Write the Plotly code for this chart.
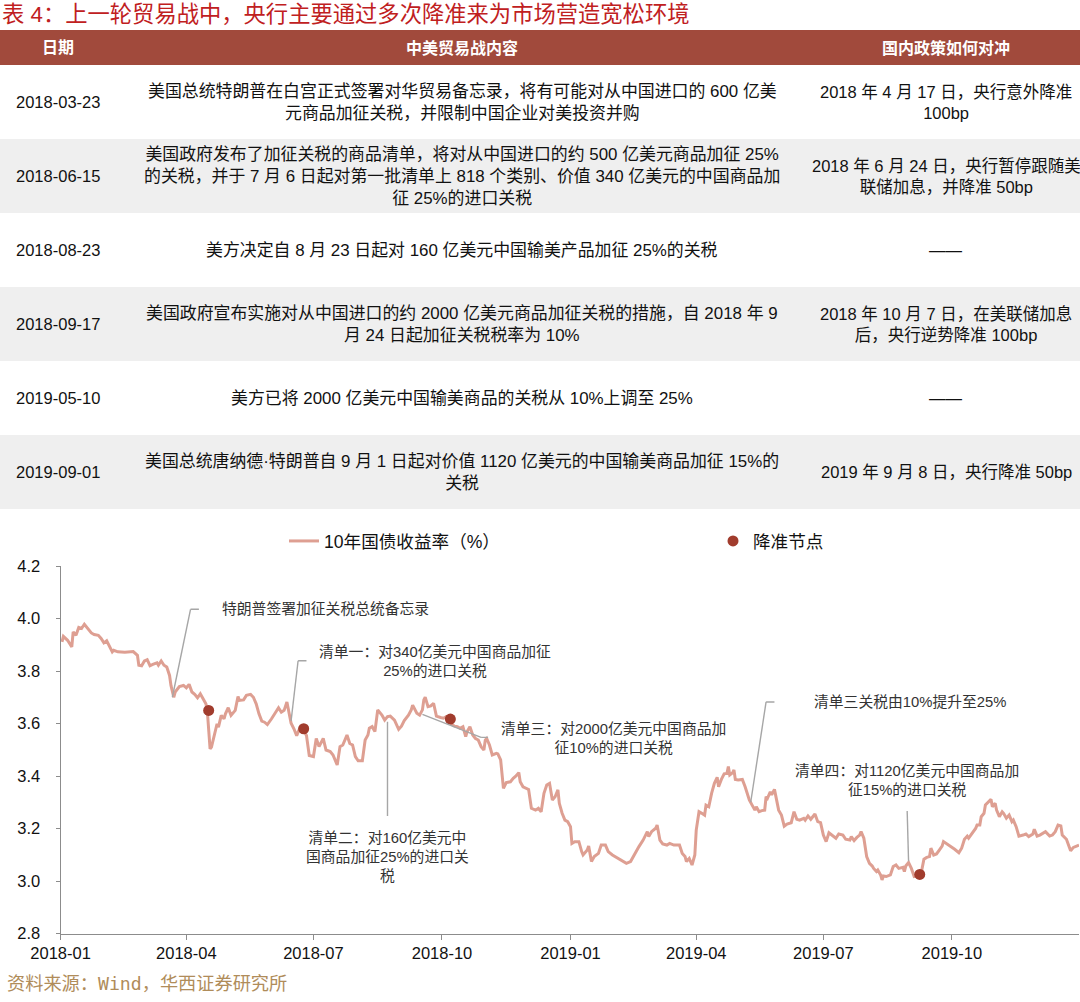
import plotly.graph_objects as go

# ---------------- data ----------------
title_text = "表 4：上一轮贸易战中，央行主要通过多次降准来为市场营造宽松环境"
source_text = "资料来源：Wind，华西证券研究所"

table_header = ["日期", "中美贸易战内容", "国内政策如何对冲"]
table_dates = ["2018-03-23", "2018-06-15", "2018-08-23", "2018-09-17", "2019-05-10", "2019-09-01"]
table_content = [
    "美国总统特朗普在白宫正式签署对华贸易备忘录，将有可能对从中国进口的 600 亿美<br>元商品加征关税，并限制中国企业对美投资并购",
    "美国政府发布了加征关税的商品清单，将对从中国进口的约 500 亿美元商品加征 25%<br>的关税，并于 7 月 6 日起对第一批清单上 818 个类别、价值 340 亿美元的中国商品加<br>征 25%的进口关税",
    "美方决定自 8 月 23 日起对 160 亿美元中国输美产品加征 25%的关税",
    "美国政府宣布实施对从中国进口的约 2000 亿美元商品加征关税的措施，自 2018 年 9<br>月 24 日起加征关税税率为 10%",
    "美方已将 2000 亿美元中国输美商品的关税从 10%上调至 25%",
    "美国总统唐纳德·特朗普自 9 月 1 日起对价值 1120 亿美元的中国输美商品加征 15%的<br>关税",
]
table_policy = [
    "2018 年 4 月 17 日，央行意外降准<br>100bp",
    "2018 年 6 月 24 日，央行暂停跟随美<br>联储加息，并降准 50bp",
    "——",
    "2018 年 10 月 7 日，在美联储加息<br>后，央行逆势降准 100bp",
    "——",
    "2019 年 9 月 8 日，央行降准 50bp",
]

series_names = ["10年国债收益率（%）", "降准节点"]

yield_2018 = [
    ("2018-01-02", 3.911), ("2018-01-03", 3.932), ("2018-01-06", 3.917), ("2018-01-09", 3.892), ("2018-01-10", 3.949),
    ("2018-01-12", 3.936), ("2018-01-14", 3.966), ("2018-01-16", 3.962), ("2018-01-18", 3.978), ("2018-01-20", 3.966),
    ("2018-01-23", 3.945), ("2018-01-25", 3.939), ("2018-01-28", 3.936), ("2018-01-30", 3.924), ("2018-02-01", 3.907),
    ("2018-02-03", 3.915), ("2018-02-05", 3.892), ("2018-02-07", 3.873), ("2018-02-08", 3.879), ("2018-02-11", 3.873),
    ("2018-02-16", 3.871), ("2018-02-22", 3.874), ("2018-02-25", 3.860), ("2018-02-26", 3.822), ("2018-02-28", 3.820),
    ("2018-03-02", 3.838), ("2018-03-04", 3.843), ("2018-03-06", 3.820), ("2018-03-08", 3.825), ("2018-03-11", 3.831),
    ("2018-03-12", 3.822), ("2018-03-14", 3.838), ("2018-03-16", 3.822), ("2018-03-18", 3.815), ("2018-03-20", 3.783),
    ("2018-03-21", 3.745), ("2018-03-23", 3.700), ("2018-03-24", 3.720), ("2018-03-27", 3.741), ("2018-03-30", 3.745),
    ("2018-04-01", 3.736), ("2018-04-03", 3.749), ("2018-04-05", 3.720), ("2018-04-07", 3.711), ("2018-04-09", 3.698),
    ("2018-04-11", 3.713), ("2018-04-13", 3.694), ("2018-04-15", 3.675), ("2018-04-16", 3.650), ("2018-04-18", 3.503),
    ("2018-04-19", 3.510), ("2018-04-21", 3.560), ("2018-04-23", 3.599), ("2018-04-24", 3.586), ("2018-04-26", 3.631),
    ("2018-04-28", 3.618), ("2018-04-29", 3.637), ("2018-05-01", 3.660), ("2018-05-03", 3.631), ("2018-05-06", 3.650),
    ("2018-05-08", 3.703), ("2018-05-09", 3.688), ("2018-05-12", 3.690), ("2018-05-14", 3.707), ("2018-05-17", 3.711),
    ("2018-05-19", 3.700), ("2018-05-21", 3.675), ("2018-05-23", 3.637), ("2018-05-25", 3.609), ("2018-05-27", 3.605),
    ("2018-05-29", 3.596), ("2018-06-01", 3.618), ("2018-06-04", 3.643), ("2018-06-06", 3.660), ("2018-06-08", 3.643),
    ("2018-06-10", 3.650), ("2018-06-12", 3.682), ("2018-06-13", 3.650), ("2018-06-15", 3.601), ("2018-06-17", 3.580),
    ("2018-06-19", 3.554), ("2018-06-21", 3.580), ("2018-06-24", 3.575), ("2018-06-26", 3.554), ("2018-06-28", 3.478),
    ("2018-07-01", 3.474), ("2018-07-03", 3.543), ("2018-07-05", 3.512), ("2018-07-08", 3.543), ("2018-07-10", 3.499),
    ("2018-07-13", 3.493), ("2018-07-15", 3.480), ("2018-07-18", 3.442), ("2018-07-20", 3.512), ("2018-07-22", 3.518),
    ("2018-07-25", 3.556), ("2018-07-27", 3.524), ("2018-07-29", 3.518), ("2018-07-31", 3.474), ("2018-08-02", 3.458),
    ("2018-08-05", 3.458), ("2018-08-07", 3.537), ("2018-08-09", 3.556), ("2018-08-10", 3.582), ("2018-08-12", 3.588),
    ("2018-08-14", 3.569), ("2018-08-16", 3.652), ("2018-08-19", 3.632), ("2018-08-21", 3.613), ("2018-08-23", 3.626),
    ("2018-08-25", 3.628), ("2018-08-28", 3.613), ("2018-08-31", 3.578), ("2018-09-02", 3.590), ("2018-09-04", 3.611),
    ("2018-09-07", 3.632), ("2018-09-09", 3.652), ("2018-09-10", 3.670), ("2018-09-12", 3.652), ("2018-09-13", 3.639),
    ("2018-09-15", 3.632), ("2018-09-17", 3.652), ("2018-09-18", 3.690), ("2018-09-19", 3.700), ("2018-09-21", 3.664),
    ("2018-09-23", 3.667), ("2018-09-25", 3.677), ("2018-09-27", 3.628), ("2018-09-30", 3.623), ("2018-10-02", 3.620),
    ("2018-10-04", 3.626), ("2018-10-07", 3.601), ("2018-10-10", 3.590), ("2018-10-12", 3.588), ("2018-10-14", 3.582),
    ("2018-10-16", 3.588), ("2018-10-18", 3.550), ("2018-10-19", 3.569), ("2018-10-21", 3.588), ("2018-10-23", 3.556),
    ("2018-10-25", 3.543), ("2018-10-27", 3.537), ("2018-10-29", 3.512), ("2018-10-31", 3.499), ("2018-11-01", 3.537),
    ("2018-11-02", 3.543), ("2018-11-04", 3.518), ("2018-11-06", 3.480), ("2018-11-09", 3.486), ("2018-11-10", 3.484),
    ("2018-11-12", 3.461), ("2018-11-14", 3.353), ("2018-11-16", 3.375), ("2018-11-19", 3.378), ("2018-11-21", 3.391),
    ("2018-11-23", 3.400), ("2018-11-25", 3.413), ("2018-11-26", 3.378), ("2018-11-28", 3.359), ("2018-12-01", 3.353),
    ("2018-12-02", 3.349), ("2018-12-04", 3.277), ("2018-12-07", 3.270), ("2018-12-09", 3.277), ("2018-12-11", 3.264),
    ("2018-12-13", 3.334), ("2018-12-15", 3.366), ("2018-12-17", 3.372), ("2018-12-19", 3.309), ("2018-12-21", 3.321),
    ("2018-12-23", 3.347), ("2018-12-24", 3.296), ("2018-12-26", 3.258), ("2018-12-28", 3.232), ("2018-12-30", 3.226),
]

yield_2019 = [
    ("2019-01-01", 3.207), ("2019-01-02", 3.143), ("2019-01-04", 3.150), ("2019-01-07", 3.150), ("2019-01-09", 3.112),
    ("2019-01-10", 3.099), ("2019-01-13", 3.118), ("2019-01-14", 3.133), ("2019-01-16", 3.074), ("2019-01-18", 3.093),
    ("2019-01-21", 3.105), ("2019-01-23", 3.137), ("2019-01-26", 3.137), ("2019-01-28", 3.112), ("2019-01-31", 3.099),
    ("2019-02-03", 3.090), ("2019-02-07", 3.078), ("2019-02-10", 3.067), ("2019-02-13", 3.074), ("2019-02-16", 3.105),
    ("2019-02-19", 3.131), ("2019-02-22", 3.156), ("2019-02-25", 3.188), ("2019-02-26", 3.169), ("2019-02-28", 3.188),
    ("2019-03-03", 3.201), ("2019-03-04", 3.213), ("2019-03-06", 3.156), ("2019-03-08", 3.141), ("2019-03-11", 3.137),
    ("2019-03-13", 3.143), ("2019-03-16", 3.137), ("2019-03-18", 3.137), ("2019-03-20", 3.137), ("2019-03-22", 3.105),
    ("2019-03-24", 3.093), ("2019-03-25", 3.074), ("2019-03-27", 3.086), ("2019-03-29", 3.061), ("2019-03-31", 3.099),
    ("2019-04-01", 3.194), ("2019-04-03", 3.264), ("2019-04-05", 3.258), ("2019-04-07", 3.251), ("2019-04-08", 3.289),
    ("2019-04-10", 3.283), ("2019-04-12", 3.334), ("2019-04-14", 3.372), ("2019-04-16", 3.395), ("2019-04-17", 3.359),
    ("2019-04-19", 3.387), ("2019-04-21", 3.408), ("2019-04-23", 3.410), ("2019-04-24", 3.436), ("2019-04-25", 3.404),
    ("2019-04-27", 3.412), ("2019-04-28", 3.423), ("2019-04-29", 3.387), ("2019-05-01", 3.385), ("2019-05-04", 3.387),
    ("2019-05-06", 3.359), ("2019-05-07", 3.340), ("2019-05-09", 3.309), ("2019-05-11", 3.289), ("2019-05-13", 3.270),
    ("2019-05-14", 3.283), ("2019-05-16", 3.264), ("2019-05-18", 3.268), ("2019-05-20", 3.270), ("2019-05-21", 3.321),
    ("2019-05-22", 3.315), ("2019-05-24", 3.340), ("2019-05-25", 3.328), ("2019-05-27", 3.349), ("2019-05-29", 3.289),
    ("2019-05-30", 3.270), ("2019-06-01", 3.251), ("2019-06-03", 3.209), ("2019-06-05", 3.217), ("2019-06-08", 3.222),
    ("2019-06-10", 3.264), ("2019-06-12", 3.235), ("2019-06-14", 3.232), ("2019-06-17", 3.239), ("2019-06-18", 3.232),
    ("2019-06-20", 3.248), ("2019-06-22", 3.235), ("2019-06-24", 3.248), ("2019-06-25", 3.255), ("2019-06-27", 3.226),
    ("2019-06-29", 3.222), ("2019-07-01", 3.175), ("2019-07-03", 3.150), ("2019-07-05", 3.184), ("2019-07-08", 3.171),
    ("2019-07-10", 3.163), ("2019-07-12", 3.179), ("2019-07-15", 3.175), ("2019-07-17", 3.159), ("2019-07-20", 3.156),
    ("2019-07-21", 3.169), ("2019-07-23", 3.154), ("2019-07-25", 3.166), ("2019-07-27", 3.175), ("2019-07-28", 3.188),
    ("2019-07-30", 3.163), ("2019-08-01", 3.093), ("2019-08-03", 3.067), ("2019-08-05", 3.057), ("2019-08-06", 3.048),
    ("2019-08-08", 3.036), ("2019-08-09", 3.042), ("2019-08-11", 3.023), ("2019-08-12", 3.004), ("2019-08-13", 3.019),
    ("2019-08-15", 3.017), ("2019-08-18", 3.023), ("2019-08-20", 3.055), ("2019-08-22", 3.061), ("2019-08-24", 3.048),
    ("2019-08-27", 3.052), ("2019-08-28", 3.036), ("2019-08-29", 3.057), ("2019-08-31", 3.070), ("2019-09-02", 3.048),
    ("2019-09-04", 3.017), ("2019-09-06", 3.020), ("2019-09-09", 3.029), ("2019-09-11", 3.083), ("2019-09-13", 3.090),
    ("2019-09-15", 3.093), ("2019-09-16", 3.125), ("2019-09-18", 3.099), ("2019-09-20", 3.103), ("2019-09-22", 3.118),
    ("2019-09-24", 3.133), ("2019-09-25", 3.150), ("2019-09-27", 3.143), ("2019-09-30", 3.133), ("2019-10-03", 3.121),
    ("2019-10-06", 3.108), ("2019-10-08", 3.125), ("2019-10-10", 3.159), ("2019-10-12", 3.171), ("2019-10-13", 3.163),
    ("2019-10-16", 3.184), ("2019-10-18", 3.200), ("2019-10-19", 3.213), ("2019-10-21", 3.213), ("2019-10-22", 3.245),
    ("2019-10-24", 3.258), ("2019-10-25", 3.290), ("2019-10-27", 3.302), ("2019-10-29", 3.311), ("2019-10-30", 3.283),
    ("2019-11-01", 3.296), ("2019-11-02", 3.270), ("2019-11-04", 3.245), ("2019-11-06", 3.264), ("2019-11-07", 3.258),
    ("2019-11-09", 3.239), ("2019-11-11", 3.251), ("2019-11-13", 3.226), ("2019-11-14", 3.232), ("2019-11-16", 3.207),
    ("2019-11-18", 3.171), ("2019-11-21", 3.175), ("2019-11-23", 3.179), ("2019-11-25", 3.169), ("2019-11-28", 3.179),
    ("2019-11-29", 3.197), ("2019-12-01", 3.171), ("2019-12-03", 3.175), ("2019-12-05", 3.182), ("2019-12-07", 3.188),
    ("2019-12-10", 3.171), ("2019-12-12", 3.175), ("2019-12-14", 3.188), ("2019-12-16", 3.213), ("2019-12-18", 3.210),
    ("2019-12-19", 3.175), ("2019-12-22", 3.159), ("2019-12-23", 3.143), ("2019-12-25", 3.115), ("2019-12-27", 3.128),
    ("2019-12-29", 3.133), ("2019-12-31", 3.137),
]

rrr_dates = ["2018-04-17", "2018-06-24", "2018-10-07", "2019-09-08"]
rrr_values = [3.650, 3.580, 3.617, 3.025]

x_tick_vals = ["2018-01-01", "2018-04-01", "2018-07-01", "2018-10-01",
               "2019-01-01", "2019-04-01", "2019-07-01", "2019-10-01"]
x_tick_text = ["2018-01", "2018-04", "2018-07", "2018-10", "2019-01", "2019-04", "2019-07", "2019-10"]
y_tick_vals = [2.8, 3.0, 3.2, 3.4, 3.6, 3.8, 4.0, 4.2]

callout_texts = [
    "特朗普签署加征关税总统备忘录",
    "清单一：对340亿美元中国商品加征<br>25%的进口关税",
    "清单二：对160亿美元中<br>国商品加征25%的进口关<br>税",
    "清单三：对2000亿美元中国商品加<br>征10%的进口关税",
    "清单三关税由10%提升至25%",
    "清单四：对1120亿美元中国商品加<br>征15%的进口关税",
]

# ---------------- layout / style ----------------
W, H = 1080, 1002
FONT = "Liberation Sans, Noto Sans CJK SC, sans-serif"
LINE_COLOR = "#DE9F92"
DOT_COLOR = "#A13C2D"
LEADER_COLOR = "#A6A6A6"
HEADER_COLOR = "#A14A3C"
STRIPE_COLOR = "#EFEFEF"

# callout placement: (text anchor x, y, xanchor), leader polyline
callout_layout = [
    (("2018-04-25", 4.036, "left"), [("2018-03-22", 3.700), ("2018-04-04", 4.035), ("2018-04-10", 4.035)]),
    (("2018-09-26", 3.838, "center"), [("2018-06-15", 3.610), ("2018-06-20", 3.839), ("2018-06-26", 3.839)]),
    (("2018-08-23", 3.091, "center"), [("2018-08-23", 3.607), ("2018-08-23", 3.248)]),
    (("2019-02-01", 3.541, "center"), [("2018-09-17", 3.635), ("2018-10-29", 3.547), ("2018-11-03", 3.547)]),
    (("2019-06-23", 3.682, "left"), [("2019-05-10", 3.300), ("2019-05-21", 3.682), ("2019-05-27", 3.682)]),
    (("2019-08-30", 3.383, "center"), [("2019-08-30", 3.267), ("2019-08-31", 3.075)]),
]

fig = go.Figure()

all_pts = yield_2018 + yield_2019
fig.add_trace(go.Scatter(
    x=[d for d, _ in all_pts], y=[v for _, v in all_pts],
    mode="lines", name=series_names[0], legend="legend",
    line=dict(color=LINE_COLOR, width=3), hoverinfo="skip",
))
fig.add_trace(go.Scatter(
    x=rrr_dates, y=rrr_values, mode="markers", name=series_names[1], legend="legend2",
    marker=dict(color=DOT_COLOR, size=11), hoverinfo="skip",
))

shapes = []
annotations = []

# ---- table (on hidden axes x2/y2: rows are integer bands) ----
n_rows = len(table_dates)
hdr = 35 / 74.0
col_x = [58 / W, 462 / W, 946 / W]
col_size = [16.5, 16.9, 16.5]
shapes.append(dict(type="rect", xref="x2", yref="y2", x0=0, x1=1, y0=-hdr, y1=0,
                   fillcolor=HEADER_COLOR, line=dict(width=0), layer="below"))
for i in range(n_rows):
    if i % 2 == 1:
        shapes.append(dict(type="rect", xref="x2", yref="y2", x0=0, x1=1, y0=i, y1=i + 1,
                           fillcolor=STRIPE_COLOR, line=dict(width=0), layer="below"))
for j, h in enumerate(table_header):
    annotations.append(dict(xref="x2", yref="y2", x=col_x[j], y=-hdr / 2, text=h, showarrow=False,
                            xanchor="center", yanchor="middle",
                            font=dict(family=FONT, size=16, color="white", weight=600)))
for i in range(n_rows):
    for j, txt in enumerate([table_dates[i], table_content[i], table_policy[i]]):
        annotations.append(dict(xref="x2", yref="y2", x=col_x[j], y=i + 0.5, text=txt, showarrow=False,
                                xanchor="center", yanchor="middle", align="center",
                                font=dict(family=FONT, size=col_size[j], color="#111111")))

# ---- title & source ----
annotations.append(dict(xref="paper", yref="paper", x=0, y=1 - 15 / H, text=title_text, showarrow=False,
                        xanchor="left", yanchor="middle",
                        font=dict(family=FONT, size=22.3, color="#C0201E")))
annotations.append(dict(xref="paper", yref="paper", x=5 / W, y=1 - 983 / H, text=source_text, showarrow=False,
                        xanchor="left", yanchor="middle",
                        font=dict(family="DejaVu Sans Mono, Noto Sans CJK SC, monospace", size=18.2, color="#B08C5A")))

# ---- callouts ----
for txt, ((ax, ay, anc), pts) in zip(callout_texts, callout_layout):
    annotations.append(dict(xref="x", yref="y", x=ax, y=ay, text=txt, showarrow=False,
                            xanchor=anc, yanchor="middle", align="center",
                            font=dict(family=FONT, size=14.8, color="#333333")))
    for (x0, y0), (x1, y1) in zip(pts[:-1], pts[1:]):
        shapes.append(dict(type="line", xref="x", yref="y", x0=x0, y0=y0, x1=x1, y1=y1,
                           line=dict(color=LEADER_COLOR, width=1.4)))

axis_font = dict(family=FONT, size=16.5, color="#111111")
legend_font = dict(family=FONT, size=17.6, color="#111111")
fig.update_layout(
    width=W, height=H,
    margin=dict(l=0, r=0, t=0, b=0, pad=0, autoexpand=False),
    paper_bgcolor="white", plot_bgcolor="white",
    showlegend=True,
    shapes=shapes, annotations=annotations,
    xaxis=dict(type="date", domain=[60.6 / W, 1079 / W], range=["2018-01-01", "2019-12-31"],
               tickvals=x_tick_vals, ticktext=x_tick_text, ticks="outside", ticklen=5,
               tickcolor="#8C8C8C", showline=True, linecolor="#8C8C8C", linewidth=1.2,
               showgrid=False, zeroline=False, tickfont=axis_font, anchor="y", fixedrange=True,
               automargin=False),
    yaxis=dict(domain=[1 - 933.5 / H, 1 - 566 / H], range=[2.8, 4.2], tickvals=y_tick_vals,
               tickformat=".1f", ticks="outside", ticklen=4, tickcolor="#8C8C8C",
               showline=True, linecolor="#8C8C8C", linewidth=1.2, showgrid=False, zeroline=False,
               tickfont=axis_font, anchor="x", ticklabelstandoff=12, fixedrange=True,
               automargin=False),
    xaxis2=dict(domain=[0, 1], range=[0, 1], visible=False, anchor="y2", fixedrange=True,
                automargin=False),
    yaxis2=dict(domain=[1 - 509 / H, 1 - 30 / H], range=[n_rows, -hdr], visible=False,
                anchor="x2", fixedrange=True, automargin=False),
    legend=dict(orientation="h", x=284 / W, y=1 - 541 / H, xanchor="left", yanchor="middle",
                bgcolor="rgba(0,0,0,0)", font=legend_font),
    legend2=dict(orientation="h", x=713 / W, y=1 - 541 / H, xanchor="left", yanchor="middle",
                 bgcolor="rgba(0,0,0,0)", font=legend_font),
)

fig.write_html("out.html")
